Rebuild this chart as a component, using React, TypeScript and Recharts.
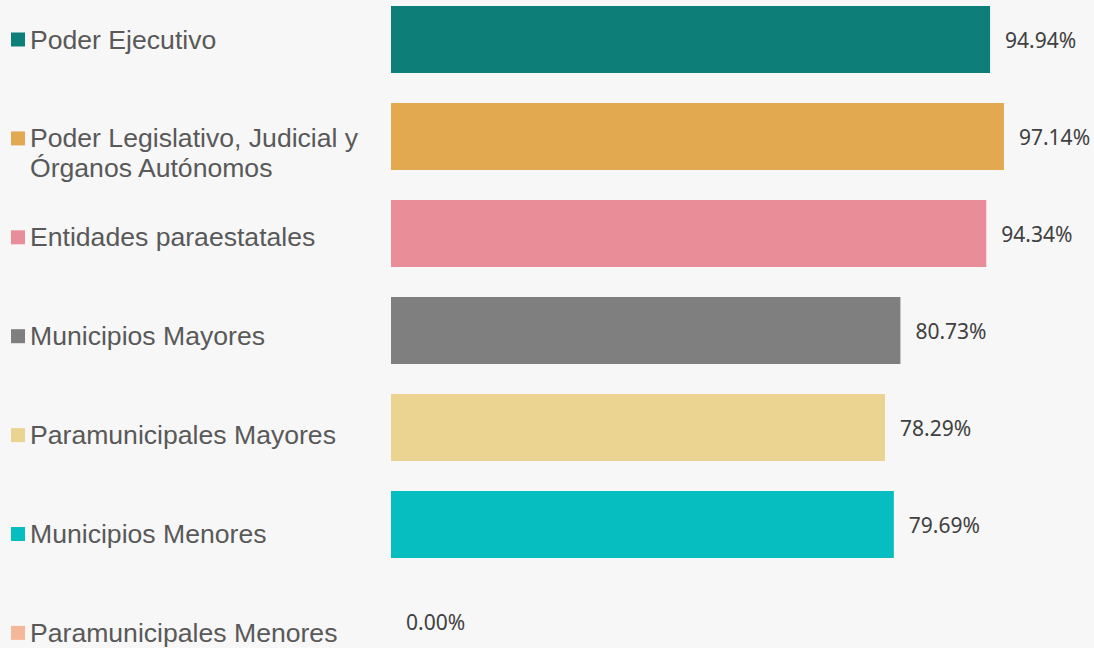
import { ComposedChart, Bar, Scatter, XAxis, YAxis, Cell } from 'recharts'

const categories = [
  'Poder Ejecutivo',
  'Poder Legislativo, Judicial y Órganos Autónomos',
  'Entidades paraestatales',
  'Municipios Mayores',
  'Paramunicipales Mayores',
  'Municipios Menores',
  'Paramunicipales Menores',
]
const values = [94.94, 97.14, 94.34, 80.73, 78.29, 79.69, 0]
const colors = ['#0e7f78', '#e3a951', '#e98e98', '#7f7f7f', '#ebd491', '#06bec0', '#f4b899']
// legend text split into lines where the original wraps
const legendLines = [
  ['Poder Ejecutivo'],
  ['Poder Legislativo, Judicial y', 'Órganos Autónomos'],
  ['Entidades paraestatales'],
  ['Municipios Mayores'],
  ['Paramunicipales Mayores'],
  ['Municipios Menores'],
  ['Paramunicipales Menores'],
]

const data = categories.map((name, i) => ({ name, value: values[i] }))

function LegendTick(props: any) {
  const { y, index } = props
  const i = index ?? 0
  const cy = y + i * 1.9
  const lines = legendLines[i]
  return (
    <g>
      <rect x={11} y={cy - 7} width={14} height={14} fill={colors[i]} />
      <text
        x={30}
        y={cy + 9}
        fill="#595959"
        fontSize={26.6}
        fontFamily="'Liberation Sans', Arial, sans-serif"
      >
        {lines.map((l, k) => (
          <tspan key={k} x={30} dy={k === 0 ? 0 : 30}>{l}</tspan>
        ))}
      </text>
    </g>
  )
}

// value label drawn at the end of each bar (works for the zero bar too)
function ValueLabel(props: any) {
  const { cx, cy, payload } = props
  return (
    <text
      x={Number(cx) + 15}
      y={Number(cy)}
      dominantBaseline="central"
      fill="#404040"
      fontSize={21}
      fontFamily="'Noto Sans', sans-serif"
    >
      {`${Number(payload.value).toFixed(2)}%`}
    </text>
  )
}

export default function App() {
  return (
    <div
      style={{
        position: 'absolute', top: 0, left: 0, width: 1094, height: 648,
        background: '#f7f7f7', overflow: 'hidden',
      }}
    >
      <div style={{ marginTop: -9 }}>
        <ComposedChart
          width={1094}
          height={679}
          data={data}
          layout="vertical"
          margin={{ top: 0, right: 72, bottom: 0, left: 0 }}
          barCategoryGap={15}
        >
          <XAxis type="number" dataKey="value" domain={[0, 100]} hide />
          <YAxis
            type="category"
            dataKey="name"
            width={391}
            axisLine={false}
            tickLine={false}
            tick={<LegendTick />}
            interval={0}
          />
          <Bar dataKey="value" barSize={67} isAnimationActive={false}>
            {data.map((d, i) => (
              <Cell key={d.name} fill={colors[i]} />
            ))}
          </Bar>
          <Scatter dataKey="value" shape={<ValueLabel />} isAnimationActive={false} />
        </ComposedChart>
      </div>
    </div>
  )
}
